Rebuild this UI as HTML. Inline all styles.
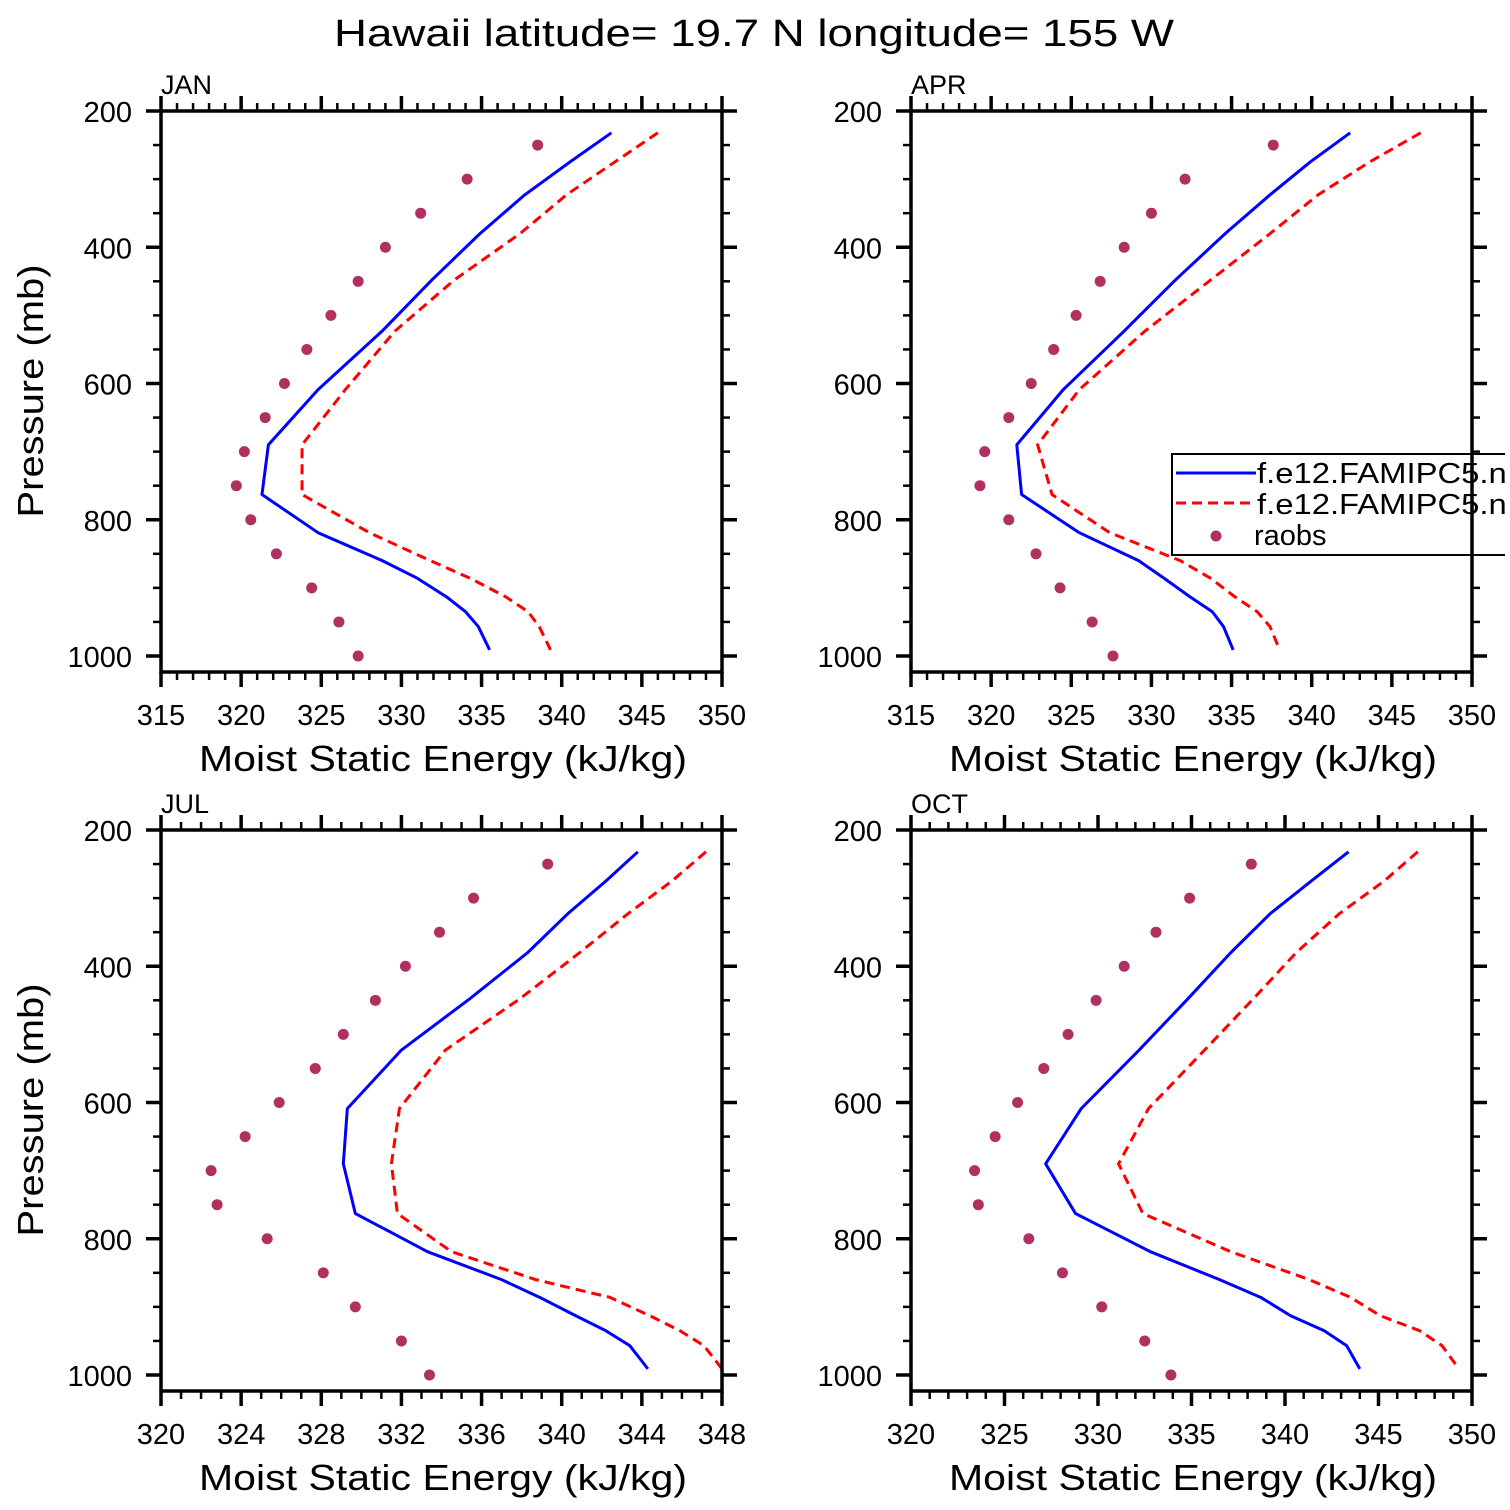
<!DOCTYPE html>
<html><head><meta charset="utf-8"><style>
body{margin:0;background:#fff}
svg{display:block;font-family:"Liberation Sans",sans-serif}
</style></head><body>
<svg id="chart" width="1510" height="1510" viewBox="0 0 1510 1510" xmlns="http://www.w3.org/2000/svg">
<defs><clipPath id="lclip"><rect x="0" y="0" width="1505" height="1510"/></clipPath></defs>
<text x="334" y="46" font-size="38" textLength="840" lengthAdjust="spacingAndGlyphs" fill="#000">Hawaii  latitude= 19.7 N longitude= 155 W</text>
</svg>
<script>
const modelLevels=[232,275,323,380,448,523,609,690,763,819,860,886,913,935,957,991];
const obsLevels=[250,300,350,400,450,500,550,600,650,700,750,800,850,900,950,1000];
const panelNames=["JAN","APR","JUL","OCT"];
const janBlue=[343.1,340.5,337.7,334.9,331.9,328.8,324.8,321.7,321.3,324.8,328.8,331.0,332.8,334.0,334.8,335.5];
const janRed=[346.0,343.3,340.3,337.4,333.3,329.6,326.5,323.8,323.8,328.0,331.8,334.3,336.5,337.9,338.6,339.3];
const janObs=[338.5,334.1,331.2,329.0,327.3,325.6,324.1,322.7,321.5,320.2,319.7,320.6,322.2,324.4,326.1,327.3];
const aprBlue=[342.4,339.9,337.4,334.6,331.5,328.3,324.5,321.6,321.9,325.5,329.2,330.8,332.4,333.8,334.5,335.1];
const aprRed=[346.8,343.6,340.4,337.4,333.7,329.6,325.5,322.9,323.8,327.4,331.8,333.7,335.2,336.6,337.4,338.0];
const aprObs=[337.6,332.1,330.0,328.3,326.8,325.3,323.9,322.5,321.1,319.6,319.3,321.1,322.8,324.3,326.3,327.6];
const julBlue=[343.8,342.2,340.3,338.3,335.4,332.0,329.3,329.1,329.7,333.3,337.0,338.9,340.7,342.2,343.4,344.3];
const julRed=[347.2,345.5,343.3,340.9,337.9,334.2,331.9,331.5,331.8,334.5,338.7,342.4,344.4,345.9,347.1,348.0];
const julObs=[339.3,335.6,333.9,332.2,330.7,329.1,327.7,325.9,324.2,322.5,322.8,325.3,328.1,329.7,332.0,333.4];
const octBlue=[343.4,341.4,339.2,337.1,334.8,332.2,329.1,327.2,328.8,332.8,336.5,338.7,340.3,342.1,343.3,344.0];
const octRed=[347.1,345.3,342.9,340.6,338.3,335.7,332.7,331.1,332.4,337.1,341.3,343.5,345.1,347.2,348.4,349.3];
const octObs=[338.2,334.9,333.1,331.4,329.9,328.4,327.1,325.7,324.5,323.4,323.6,326.3,328.1,330.2,332.5,333.9];
const xTicksA=[315,320,325,330,335,340,345,350];
const xTicksJul=[320,324,328,332,336,340,344,348];
const xTicksOct=[320,325,330,335,340,345,350];
const yTicks=[200,400,600,800,1000];
const legendLabels=["f.e12.FAMIPC5.ne","f.e12.FAMIPC5.ne","raobs"];

const NS="http://www.w3.org/2000/svg";
const svg=document.getElementById('chart');
function mk(tag,attrs,parent){const e=document.createElementNS(NS,tag);for(const k in attrs)e.setAttribute(k,attrs[k]);(parent||svg).appendChild(e);return e;}

const panels=[
 {name:"jan",x0:161,y0:111,xmin:315,xmax:350,ticks:xTicksA,minor:1,blue:janBlue,red:janRed,obs:janObs,label:panelNames[0],ytitle:true},
 {name:"apr",x0:911,y0:111,xmin:315,xmax:350,ticks:xTicksA,minor:1,blue:aprBlue,red:aprRed,obs:aprObs,label:panelNames[1],ytitle:false},
 {name:"jul",x0:161,y0:830,xmin:320,xmax:348,ticks:xTicksJul,minor:1,blue:julBlue,red:julRed,obs:julObs,label:panelNames[2],ytitle:true},
 {name:"oct",x0:911,y0:830,xmin:320,xmax:350,ticks:xTicksOct,minor:1,blue:octBlue,red:octRed,obs:octObs,label:panelNames[3],ytitle:false}
];
const W=561, PS=0.68125, H=561;
panels.forEach(P=>{
 const g=mk('g',{});
 
 
 const xs=v=>P.x0+(v-P.xmin)/(P.xmax-P.xmin)*W;
 const ys=p=>P.y0+(p-200)*PS;
 const right=P.x0+W, bottom=P.y0+H;
 const blue=mk('polyline',{points:P.blue.map((v,i)=>xs(v)+','+ys(modelLevels[i])).join(' '),fill:'none',stroke:'#0000ff','stroke-width':3,'stroke-linejoin':'round'},g);
 
 
 const red=mk('polyline',{points:P.red.map((v,i)=>xs(v)+','+ys(modelLevels[i])).join(' '),fill:'none',stroke:'#ff0000','stroke-width':3,'stroke-dasharray':'10,6'},g);
 
 
 P.obs.forEach((v,i)=>{
  const c=mk('circle',{cx:xs(v),cy:ys(obsLevels[i]),r:5.5,fill:'#b03060'},g);
  
  
 });
 const fr=mk('rect',{x:P.x0,y:P.y0,width:W,height:H,fill:'none',stroke:'#000','stroke-width':3.5},g);
 
 
 for(let v=P.xmin;v<=P.xmax+1e-9;v+=P.minor){
  const major=P.ticks.includes(v); const L=major?15:8; const x=xs(v);
  mk('line',{x1:x,x2:x,y1:P.y0,y2:P.y0-L,stroke:'#000','stroke-width':major?3.5:2.5},g);
  mk('line',{x1:x,x2:x,y1:bottom,y2:bottom+L,stroke:'#000','stroke-width':major?3.5:2.5},g);
 }
 P.ticks.forEach(v=>{
  const t=mk('text',{x:xs(v),y:bottom+53,'font-size':29,'text-anchor':'middle',fill:'#000'},g);
  t.textContent=v;
  
  
 });
 for(let p=200;p<=1000;p+=50){
  const major=(p%200===0); const L=major?15:8; const y=ys(p);
  mk('line',{x1:P.x0,x2:P.x0-L,y1:y,y2:y,stroke:'#000','stroke-width':major?3.5:2.5},g);
  mk('line',{x1:right,x2:right+L,y1:y,y2:y,stroke:'#000','stroke-width':major?3.5:2.5},g);
 }
 yTicks.forEach(p=>{
  const t=mk('text',{x:P.x0-29,y:ys(p)+11,'font-size':29,'text-anchor':'end',fill:'#000'},g);
  t.textContent=p;
  
  
 });
 const lb=mk('text',{x:P.x0,y:P.y0-17,'font-size':27,fill:'#000'},g);
 lb.textContent=P.label;
 
 
 const xt=mk('text',{x:P.x0+38,y:bottom+99,'font-size':36,textLength:488,lengthAdjust:'spacingAndGlyphs',fill:'#000'},g);
 xt.textContent='Moist Static Energy (kJ/kg)';
 
 
 if(P.ytitle){
  const cy=P.y0+280;
  const yt=mk('text',{x:0,y:0,'font-size':36,textLength:253,lengthAdjust:'spacingAndGlyphs','text-anchor':'middle',transform:`translate(43,${cy}) rotate(-90)`,fill:'#000'},g);
  yt.textContent='Pressure (mb)';
  
  
 }
});
const lg=mk('g',{'clip-path':'url(#lclip)'});


mk('rect',{x:1172,y:454,width:345,height:101,fill:'#fff',stroke:'#000','stroke-width':2},lg);
mk('line',{x1:1176,x2:1256,y1:473,y2:473,stroke:'#0000ff','stroke-width':3},lg);
mk('line',{x1:1176,x2:1256,y1:503,y2:503,stroke:'#ff0000','stroke-width':3,'stroke-dasharray':'10,6'},lg);
mk('circle',{cx:1216,cy:536,r:5.5,fill:'#b03060'},lg);
legendLabels.forEach((s,i)=>{
 const attrs={x:i<2?1257:1254,y:483+i*31,'font-size':29,fill:'#000'};
 if(i<2){attrs.textLength=268;attrs.lengthAdjust='spacingAndGlyphs';}
 const t=mk('text',attrs,lg);
 t.textContent=s;
 
 
});
mk('line',{x1:1472,x2:1472,y1:454,y2:555,stroke:'#000','stroke-width':3.5},lg);
</script>
</body></html>
